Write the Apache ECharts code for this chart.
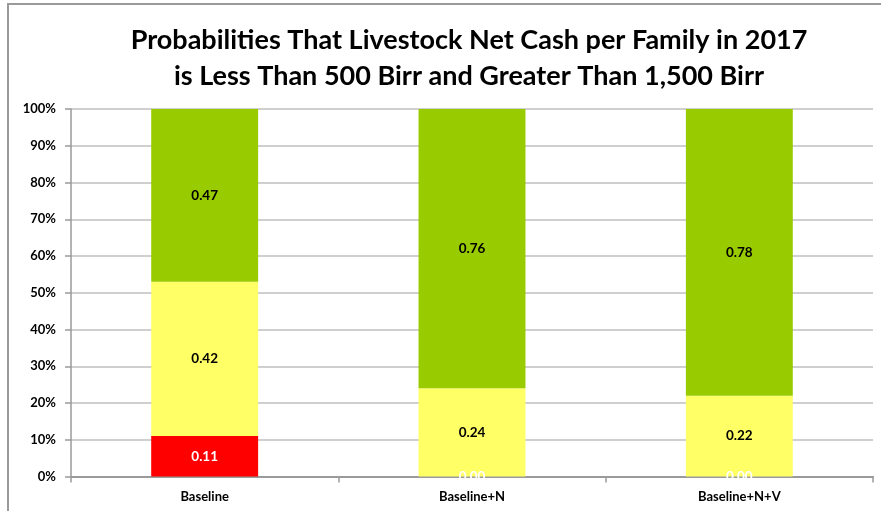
<!DOCTYPE html>
<html><head><meta charset="utf-8">
<script src="https://cdn.jsdelivr.net/npm/echarts@6/dist/echarts.min.js"></script>
<style>html,body{margin:0;padding:0;background:#fff}#c{width:881px;height:511px}</style>
</head><body><div id="c"></div>
<script>
const categories = ['Baseline', 'Baseline+N', 'Baseline+N+V'];
const lessThan500 = [0.11, 0.00, 0.00];
const between = [0.42, 0.24, 0.22];
const greaterThan1500 = [0.47, 0.76, 0.78];
const yTicks = [0, 10, 20, 30, 40, 50, 60, 70, 80, 90, 100];

const FONT = 'Lato';
const chart = echarts.init(document.getElementById('c'), null, {renderer: 'canvas'});
function lbl(color) {
  return {show: true, position: 'inside', color: color, fontFamily: FONT, fontWeight: 'bold', fontSize: 13.5,
    formatter: p => p.value.toFixed(2)};
}
chart.setOption({
  animation: false,
  title: {
    text: 'Probabilities That Livestock Net Cash per Family in 2017\nis Less Than 500 Birr and Greater Than 1,500 Birr',
    left: 464, textAlign: 'center', top: 17,
    textStyle: {fontFamily: FONT, fontWeight: 'bold', fontSize: 27, lineHeight: 36, color: '#000'}
  },
  graphic: [{type: 'rect', shape: {x: 8, y: 4, width: 900, height: 600}, style: {fill: null, stroke: '#9a9a9a', lineWidth: 2}, silent: true}],
  grid: {left: 71, right: 8, top: 109, bottom: 34.5},
  xAxis: {
    type: 'category', data: categories,
    axisLine: {lineStyle: {color: '#9a9a9a', width: 2}},
    axisTick: {show: true, alignWithLabel: false, length: 6, lineStyle: {color: '#9a9a9a', width: 1.5}},
    axisLabel: {color: '#000', fontFamily: FONT, fontWeight: 'bold', fontSize: 13, margin: 14}
  },
  yAxis: {
    type: 'value', min: 0, max: 1, interval: 0.1,
    axisLine: {show: true, lineStyle: {color: '#9a9a9a', width: 1.5}},
    axisTick: {show: true, length: 6, lineStyle: {color: '#9a9a9a', width: 1.5}},
    splitLine: {lineStyle: {color: '#cfcfcf', width: 2}},
    axisLabel: {color: '#000', fontFamily: FONT, fontWeight: 'bold', fontSize: 13, margin: 15,
      formatter: v => yTicks[Math.round(v * 10)] + '%'}
  },
  series: [
    {name: '<500', type: 'bar', stack: 's', data: lessThan500, barWidth: '40%', itemStyle: {color: '#ff0000'}, label: lbl('#fff')},
    {name: 'mid', type: 'bar', stack: 's', data: between, itemStyle: {color: '#ffff66'}, label: lbl('#000')},
    {name: '>1500', type: 'bar', stack: 's', data: greaterThan1500, itemStyle: {color: '#99cc00'}, label: lbl('#000')}
  ]
});
</script></body></html>
